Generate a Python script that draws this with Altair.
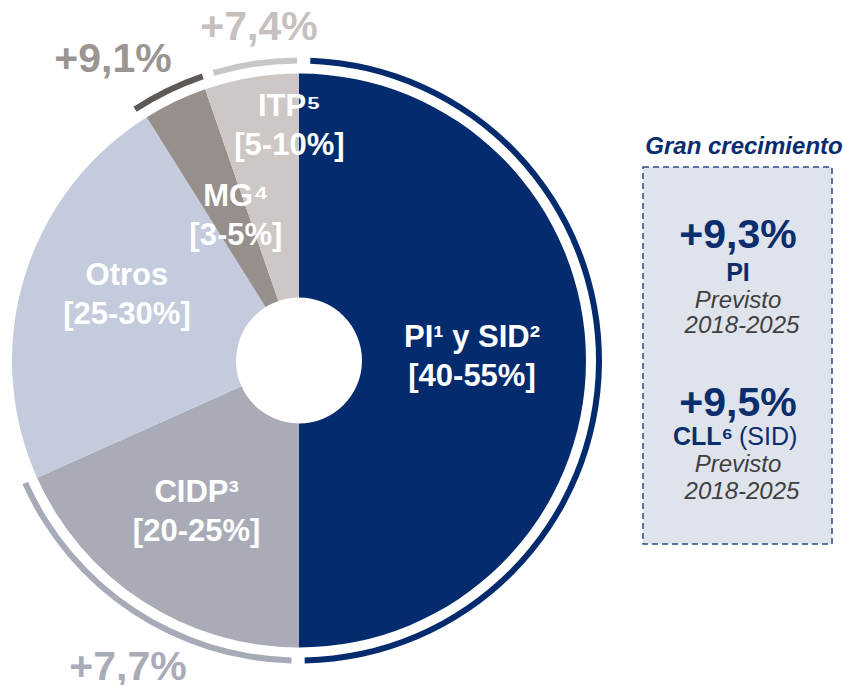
import altair as alt
import pandas as pd

# ---------------- data ----------------
categories = ["PI¹ y SID²", "CIDP³", "Otros", "MG⁴", "ITP⁵"]
ranges = ["[40-55%]", "[20-25%]", "[25-30%]", "[3-5%]", "[5-10%]"]
shares = [50.0, 18.3, 22.8, 3.6, 5.3]
colors = ["#032b6e", "#a9acb7", "#c3cbdd", "#968f8b", "#cdc8c6"]

# growth arcs around the pie (in % of the full circle)
arc_names = ["PI", "CIDP", "MG", "ITP"]
arc_start = [0.6, 50.4, 90.8, 95.4]
arc_end = [49.7, 68.3, 94.8, 99.9]
arc_colors = ["#032b6e", "#a7aab7", "#5e5957", "#c9c6c6"]

growth_labels = ["+7,7%", "+9,1%", "+7,4%"]
growth_colors = ["#a9acb8", "#9b9592", "#c6c0bf"]

box_title = "Gran crecimiento"
box_values = ["+9,3%", "+9,5%"]
box_names = ["PI", "CLL⁶"]
box_period = ["Previsto", "2018-2025"]

# ---------------- layout ----------------
FONT = "Liberation Sans"
NAVY = "#0a2d6e"
CX, CY = 299, 360.5
R_OUT, R_IN = 287, 63
theta_scale = alt.Scale(domain=[0, 100], range=[0, 6.283185307179586])

df = pd.DataFrame({
    "cat": categories,
    "share": shares,
    "idx": list(range(len(categories))),
    "label": [c + "\n" + r for c, r in zip(categories, ranges)],
})

pie = alt.Chart(df).mark_arc(x=CX, y=CY, radius=R_OUT, radius2=R_IN, stroke=None).encode(
    theta=alt.Theta("share:Q", stack=True, scale=theta_scale),
    color=alt.Color("cat:N", scale=alt.Scale(domain=categories, range=colors), legend=None),
    order=alt.Order("idx:Q"),
)

arcs_df = pd.DataFrame({"name": arc_names, "s": arc_start, "e": arc_end})
arcs = alt.Chart(arcs_df).mark_arc(x=CX, y=CY, radius=303, radius2=297).encode(
    theta=alt.Theta("s:Q", scale=theta_scale, stack=False),
    theta2="e:Q",
    color=alt.Color("name:N", scale=alt.Scale(domain=arc_names, range=arc_colors), legend=None),
)

base = alt.Chart(df).transform_window(
    cum="sum(share)", sort=[alt.SortField("idx")], frame=[None, 0]
).transform_calculate(mid="datum.cum - datum.share / 2")

# per-label radius and nudges (layout)
LIFT = -19.5
label_layout = [
    (173, 0, -3 + LIFT),
    (181, -4, 0 + LIFT),
    (184, 4, -11 + LIFT),
    (158, 5, -1 + LIFT),
    (233, 29, -4 + LIFT),
]
label_layers = []
for i, (r, dx, dy) in enumerate(label_layout):
    label_layers.append(
        base.transform_filter(f"datum.idx == {i}").mark_text(
            x=CX, y=CY, radius=r, dx=dx, dy=dy, font=FONT, fontSize=31, fontWeight="bold",
            color="white", align="center", baseline="middle", lineBreak="\n", lineHeight=39,
        ).encode(
            theta=alt.Theta("mid:Q", scale=theta_scale, stack=False),
            text="label:N",
        )
    )


def txt(s, x, y, size, color, weight="bold", style="normal", align="center"):
    return alt.Chart(pd.DataFrame({"t": [s]})).mark_text(
        font=FONT, fontSize=size, fontWeight=weight, fontStyle=style, color=color,
        align=align, baseline="middle",
    ).encode(text="t:N", x=alt.value(x), y=alt.value(y))


growth_pos = [(128, 668), (113, 60), (259, 28)]
growth_layers = [
    txt(g, x, y, 41, c) for g, c, (x, y) in zip(growth_labels, growth_colors, growth_pos)
]

box = alt.Chart(pd.DataFrame({"a": [0]})).mark_rect(
    fill="#dfe3ec", stroke="#2d4b85", strokeDash=[6, 4], strokeWidth=1.5
).encode(x=alt.value(643), x2=alt.value(832), y=alt.value(167), y2=alt.value(544))

box_layers = [
    txt(box_title, 744, 146.5, 24, NAVY, "bold", "italic"),
    txt(box_values[0], 738, 236, 41, NAVY),
    txt(box_names[0], 738, 272.5, 25, NAVY),
    txt(box_period[0], 738, 301, 24, "#404040", "normal", "italic"),
    txt(box_period[1], 742, 325.5, 24, "#404040", "normal", "italic"),
    txt(box_values[1], 738, 403.5, 41, NAVY),
    txt(box_names[1], 733, 436.5, 25, NAVY, "bold", "normal", "right"),
    txt("(SID)", 739, 436.5, 25, NAVY, "normal", "normal", "left"),
    txt(box_period[0], 738, 465, 24, "#404040", "normal", "italic"),
    txt(box_period[1], 742, 491.5, 24, "#404040", "normal", "italic"),
]

chart = alt.layer(
    pie, arcs, *label_layers, *growth_layers, box, *box_layers
).resolve_scale(color="independent").properties(
    width=843, height=685, autosize="none", padding=0
).configure_view(stroke=None)

chart.save("out.html", embed_options={"renderer": "svg", "actions": False})
